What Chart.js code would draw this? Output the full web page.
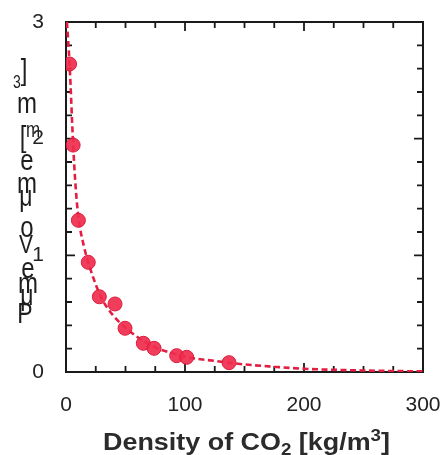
<!DOCTYPE html>
<html>
<head>
<meta charset="utf-8">
<script src="https://cdn.jsdelivr.net/npm/chart.js@4.4.0/dist/chart.umd.min.js"></script>
<style>
html,body{margin:0;padding:0;background:#fff;}
#wrap{width:442px;height:455px;}
</style>
</head>
<body>
<div id="wrap"><canvas id="c" width="442" height="455"></canvas></div>
<script>
// ---- data ----
const densities = [3, 6, 10.4, 18.7, 28, 41.2, 49.6, 65, 74, 93, 101.4, 137];
const volumes   = [2.64, 1.945, 1.30, 0.94, 0.645, 0.583, 0.375, 0.246, 0.203, 0.14, 0.126, 0.08];
const fitX = [0.8, 3, 6, 8, 10.4, 15, 19, 25, 30, 40, 50, 60, 75, 90, 100, 125, 150, 175, 200, 250, 300];
const fitY = [3.0, 2.64, 1.95, 1.6, 1.33, 1.08, 0.93, 0.75, 0.63, 0.48, 0.38, 0.30, 0.21, 0.16, 0.13, 0.095, 0.065, 0.045, 0.028, 0.013, 0.005];
const xTicks = [0, 100, 200, 300];
const yTicks = [0, 1, 2, 3];
const xTitle = ["Density of CO", "2", " [kg/m", "3", "]"];
const yTitleChars = ["3", "]", "m", "m", "[", "e", "m", "μ", "o", "V", "e", "m", "μ", "P"];

const RED_PT = 'rgba(240,45,78,0.92)';
const RED_LN = 'rgb(228,30,66)';
const AX = '#1a1a1a';
const FAM = '"Liberation Sans", Arial, sans-serif';

const frame = {
  id: 'frame',
  beforeDatasetsDraw(chart) {
    const {ctx, chartArea: a, scales: {x, y}} = chart;
    ctx.save();
    ctx.strokeStyle = AX;
    ctx.lineWidth = 2;
    ctx.strokeRect(a.left, a.top, a.right - a.left, a.bottom - a.top);
    ctx.lineWidth = 1.8;
    ctx.beginPath();
    for (let v = 25; v < 300; v += 25) {
      const px = x.getPixelForValue(v);
      const len = v % 100 === 0 ? 9 : 6;
      ctx.moveTo(px, a.bottom); ctx.lineTo(px, a.bottom - len);
      ctx.moveTo(px, a.top); ctx.lineTo(px, a.top + len);
    }
    for (let i = 1; i < 15; i++) {
      const v = i * 0.2;
      const py = y.getPixelForValue(v);
      const len = i % 5 === 0 ? 9 : 6;
      ctx.moveTo(a.left, py); ctx.lineTo(a.left + len, py);
      ctx.moveTo(a.right, py); ctx.lineTo(a.right - len, py);
    }
    ctx.stroke();
    ctx.restore();
  },
  afterDraw(chart) {
    const {ctx} = chart;
    ctx.save();
    // x title with subscript / superscript
    const big = 'bold 23px ' + FAM;
    const small = 'bold 16px ' + FAM;
    const parts = [
      {t: xTitle[0], f: big, dy: 0},
      {t: xTitle[1], f: small, dy: 5},
      {t: xTitle[2], f: big, dy: 0},
      {t: xTitle[3], f: small, dy: -9},
      {t: xTitle[4], f: big, dy: 0}
    ];
    let total = 0;
    parts.forEach(p => { ctx.font = p.f; p.w = ctx.measureText(p.t).width; total += p.w; });
    const target = 287;
    const sx = target / total;
    const cxMid = 246.5;
    ctx.translate(cxMid - target / 2, 450);
    ctx.scale(sx, 1);
    let cx = 0;
    ctx.fillStyle = '#2b2b2b';
    ctx.textBaseline = 'alphabetic';
    ctx.textAlign = 'left';
    parts.forEach(p => { ctx.font = p.f; ctx.fillText(p.t, cx, p.dy); cx += p.w; });
    ctx.restore();

    // y title: stacked upright characters as in the reference
    ctx.save();
    const pos = [
      {x: 17, y: 88, s: 14},
      {x: 24, y: 80, s: 24},
      {x: 27, y: 113, s: 24},
      {x: 33, y: 137, s: 17},
      {x: 23, y: 147, s: 24},
      {x: 27, y: 170, s: 24},
      {x: 27, y: 193, s: 24},
      {x: 26, y: 206, s: 23},
      {x: 27, y: 237, s: 24},
      {x: 26, y: 253, s: 21},
      {x: 28, y: 278, s: 24},
      {x: 28, y: 293, s: 24},
      {x: 27, y: 305, s: 23},
      {x: 25, y: 323, s: 23}
    ];
    ctx.fillStyle = '#1e1e1e';
    ctx.textAlign = 'center';
    yTitleChars.forEach((c, i) => {
      const p = pos[i];
      ctx.save();
      ctx.translate(p.x, p.y);
      ctx.scale(1, 1.25);
      ctx.font = p.s + 'px ' + FAM;
      ctx.fillText(c, 0, 0);
      ctx.restore();
    });
    ctx.restore();
  }
};

new Chart(document.getElementById('c'), {
  type: 'scatter',
  data: {
    datasets: [
      {
        label: 'points',
        data: densities.map((d, i) => ({x: d, y: volumes[i]})),
        backgroundColor: RED_PT,
        borderColor: 'rgb(218,28,58)',
        borderWidth: 1,
        pointRadius: 7,
        order: 0
      },
      {
        label: 'fit',
        data: fitX.map((d, i) => ({x: d, y: fitY[i]})),
        showLine: true,
        borderColor: RED_LN,
        borderWidth: 2.6,
        borderDash: [6, 3.5],
        pointRadius: 0,
        cubicInterpolationMode: 'monotone',
        order: 1
      }
    ]
  },
  options: {
    responsive: false,
    animation: false,
    layout: {padding: {left: 0, right: 19, top: 22, bottom: 0}},
    plugins: {legend: {display: false}, tooltip: {enabled: false}},
    scales: {
      x: {
        type: 'linear', min: 0, max: 300,
        afterBuildTicks(s) { s.ticks = xTicks.map(v => ({value: v})); },
        afterFit(s) { s.height = 83; s.paddingLeft = 0; s.paddingRight = 0; },
        grid: {display: false, drawTicks: false},
        border: {display: false},
        ticks: {color: '#222', padding: 21, font: {size: 21, family: FAM}}
      },
      y: {
        type: 'linear', min: 0, max: 3,
        afterBuildTicks(s) { s.ticks = yTicks.map(v => ({value: v})); },
        afterFit(s) { s.width = 66; s.paddingTop = 0; s.paddingBottom = 0; },
        grid: {display: false, drawTicks: false},
        border: {display: false},
        ticks: {color: '#222', padding: 22, font: {size: 21, family: FAM}}
      }
    }
  },
  plugins: [frame]
});
</script>
</body>
</html>
